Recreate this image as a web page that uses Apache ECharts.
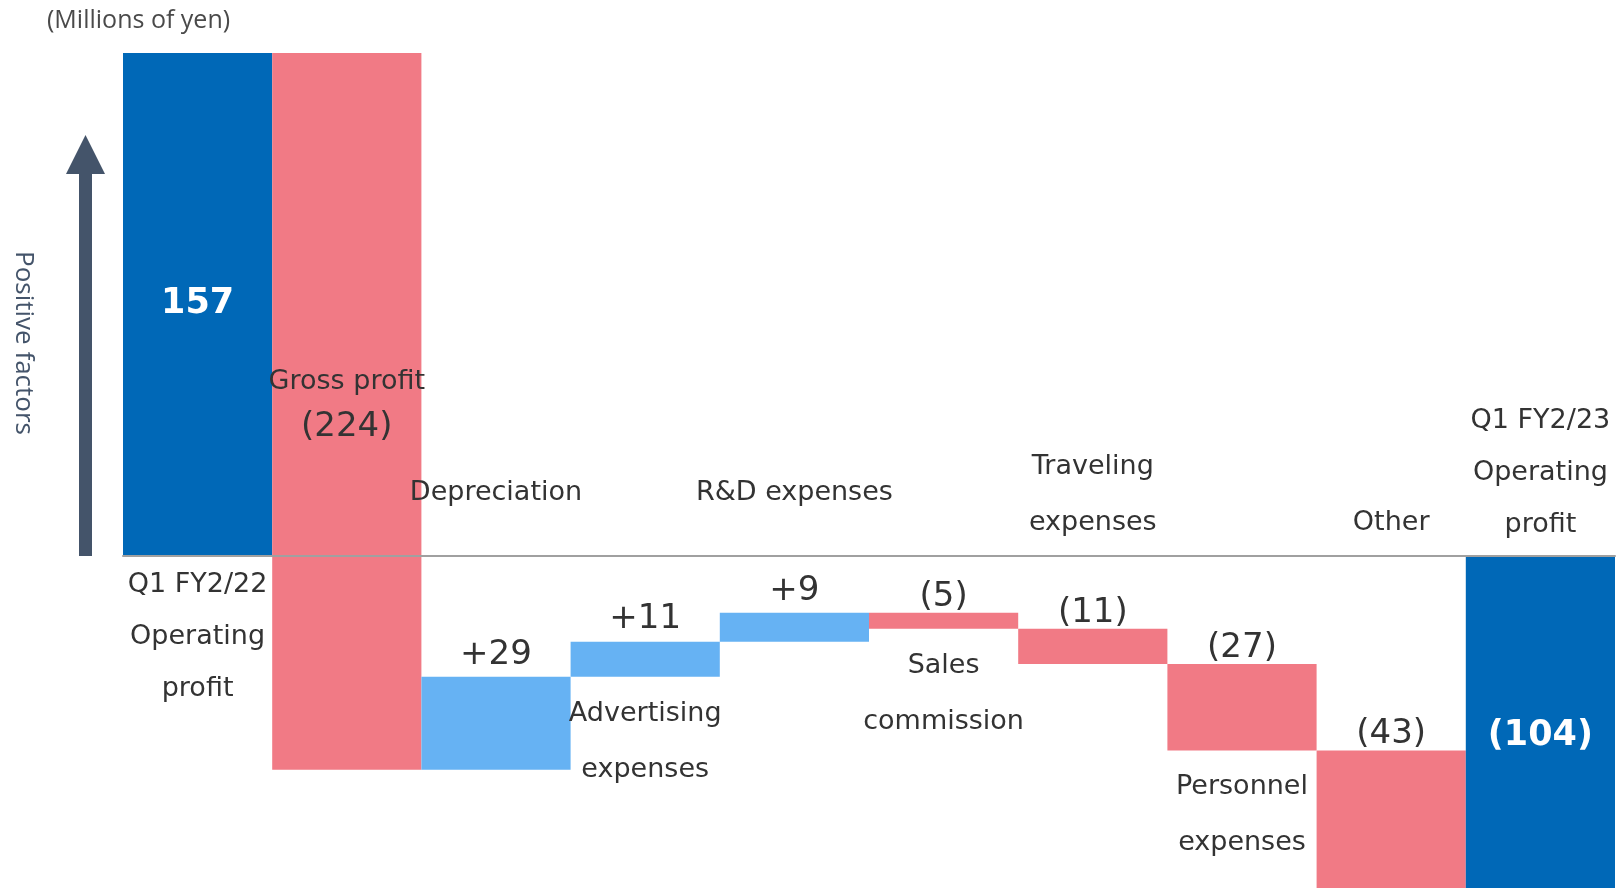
<!DOCTYPE html>
<html>
<head>
<meta charset="utf-8">
<script src="https://cdn.jsdelivr.net/npm/echarts@6/dist/echarts.min.js"></script>
<style>
html,body{margin:0;padding:0;background:#fff;}
#chart{width:1619px;height:888px;}
</style>
</head>
<body>
<div id="chart"></div>
<script>
// ---- data ----
const categories = ['Q1 FY2/22\nOperating\nprofit', 'Gross profit', 'Depreciation', 'Advertising\nexpenses', 'R&D expenses', 'Sales\ncommission', 'Traveling\nexpenses', 'Personnel\nexpenses', 'Other', 'Q1 FY2/23\nOperating\nprofit'];
const changes = [157, -224, 29, 11, 9, -5, -11, -27, -43, -104];
const isTotal = [true, false, false, false, false, false, false, false, false, true];
const valueLabels = ['157', '(224)', '+29', '+11', '+9', '(5)', '(11)', '(27)', '(43)', '(104)'];
const yMin = -104, yMax = 157;

// ---- layout (label placement) ----
const namePlace = ['belowZero', 'inBar', 'aboveZeroHigh', 'belowBar', 'aboveZeroHigh', 'belowBar', 'aboveZero', 'belowBar', 'aboveZero', 'aboveZero'];
const valuePlace = ['center', 'inBar', 'aboveBar', 'aboveBar', 'aboveBar', 'aboveBar', 'aboveBar', 'aboveBar', 'aboveBar', 'center'];

const COLORS = { total: '#0068B7', down: '#F17A85', up: '#66B2F3' };
const NAME_FONT = '27px "DejaVu Sans"';
const VALUE_FONT = '34px "DejaVu Sans"';
const BOLD_FONT = 'bold 35px "DejaVu Sans"';
const TEXT_COLOR = '#333333';

// build waterfall ranges
const seriesData = [];
let running = 0;
changes.forEach((v, i) => {
  let lo, hi, kind;
  if (isTotal[i]) {
    lo = Math.min(0, v); hi = Math.max(0, v); kind = 'total'; running = v;
  } else {
    const next = running + v;
    lo = Math.min(running, next); hi = Math.max(running, next);
    kind = v < 0 ? 'down' : 'up';
    running = next;
  }
  seriesData.push([i, lo, hi, kind]);
});

function renderItem(params, api) {
  const i = api.value(0);
  const lo = api.value(1), hi = api.value(2);
  const kind = seriesData[params.dataIndex][3];
  const top = api.coord([i, hi]);
  const bot = api.coord([i, lo]);
  const zero = api.coord([i, 0]);
  const w = api.size([1, 0])[0];
  const cx = top[0];
  const children = [{
    type: 'rect',
    shape: { x: cx - w / 2, y: top[1], width: w, height: bot[1] - top[1] },
    style: { fill: COLORS[kind] }
  }];
  const mid = (top[1] + bot[1]) / 2;
  // name label
  const np = namePlace[i];
  const lines = categories[i].split('\n').length;
  const lh = lines >= 3 ? 52 : 56;
  const nameStyle = { text: categories[i], x: cx, font: NAME_FONT, fill: TEXT_COLOR, align: 'center', lineHeight: lh };
  if (np === 'belowZero') { nameStyle.y = zero[1] + 4; nameStyle.verticalAlign = 'top'; }
  else if (np === 'aboveZero') { nameStyle.y = zero[1] - 4; nameStyle.verticalAlign = 'bottom'; }
  else if (np === 'aboveZeroHigh') { nameStyle.y = zero[1] - 34; nameStyle.verticalAlign = 'bottom'; }
  else if (np === 'belowBar') { nameStyle.y = bot[1] + 9; nameStyle.verticalAlign = 'top'; }
  else if (np === 'inBar') { nameStyle.y = mid - 29; nameStyle.verticalAlign = 'middle'; }
  children.push({ type: 'text', z2: 10, style: nameStyle });
  // value label
  const vp = valuePlace[i];
  const valStyle = { text: valueLabels[i], x: cx, align: 'center', verticalAlign: 'middle' };
  if (vp === 'center') { valStyle.y = mid + (i === 9 ? 14 : 0); valStyle.font = BOLD_FONT; valStyle.fill = '#ffffff'; }
  else if (vp === 'inBar') { valStyle.y = mid + 16; valStyle.font = VALUE_FONT; valStyle.fill = TEXT_COLOR; }
  else { valStyle.y = top[1] - (kind === 'up' ? 22 : 16); valStyle.font = VALUE_FONT; valStyle.fill = TEXT_COLOR; }
  children.push({ type: 'text', z2: 10, style: valStyle });
  return { type: 'group', children: children };
}

const chart = echarts.init(document.getElementById('chart'), null, { renderer: 'canvas' });
chart.setOption({
  animation: false,
  backgroundColor: '#ffffff',
  grid: { left: 123, right: 4, top: 53, bottom: 0, containLabel: false },
  xAxis: {
    type: 'category',
    data: categories,
    z: 10,
    axisLine: { show: true, onZero: true, lineStyle: { color: '#a0a0a0', width: 2 } },
    axisTick: { show: false },
    axisLabel: { show: false },
    splitLine: { show: false }
  },
  yAxis: {
    type: 'value', min: yMin, max: yMax, show: false,
    splitLine: { show: false }
  },
  graphic: [
    { type: 'text', left: 47, top: 8, style: { text: '(Millions of yen)', font: '25px "Open Sans"', fill: '#4a4a4a' } },
    { type: 'rect', shape: { x: 79, y: 172, width: 13, height: 384 }, style: { fill: '#44546A' } },
    { type: 'polygon', shape: { points: [[85.5, 135], [105, 174], [66, 174]] }, style: { fill: '#44546A' } },
    { type: 'text', x: 23, y: 343, rotation: -Math.PI / 2,
      style: { text: 'Positive factors', font: '26px "Open Sans"', fill: '#44546A', align: 'center', verticalAlign: 'middle' } }
  ],
  series: [{
    type: 'custom',
    renderItem: renderItem,
    encode: { x: 0, y: [1, 2] },
    data: seriesData.map(d => [d[0], d[1], d[2]]),
    z: 2
  }]
});
</script>
</body>
</html>
